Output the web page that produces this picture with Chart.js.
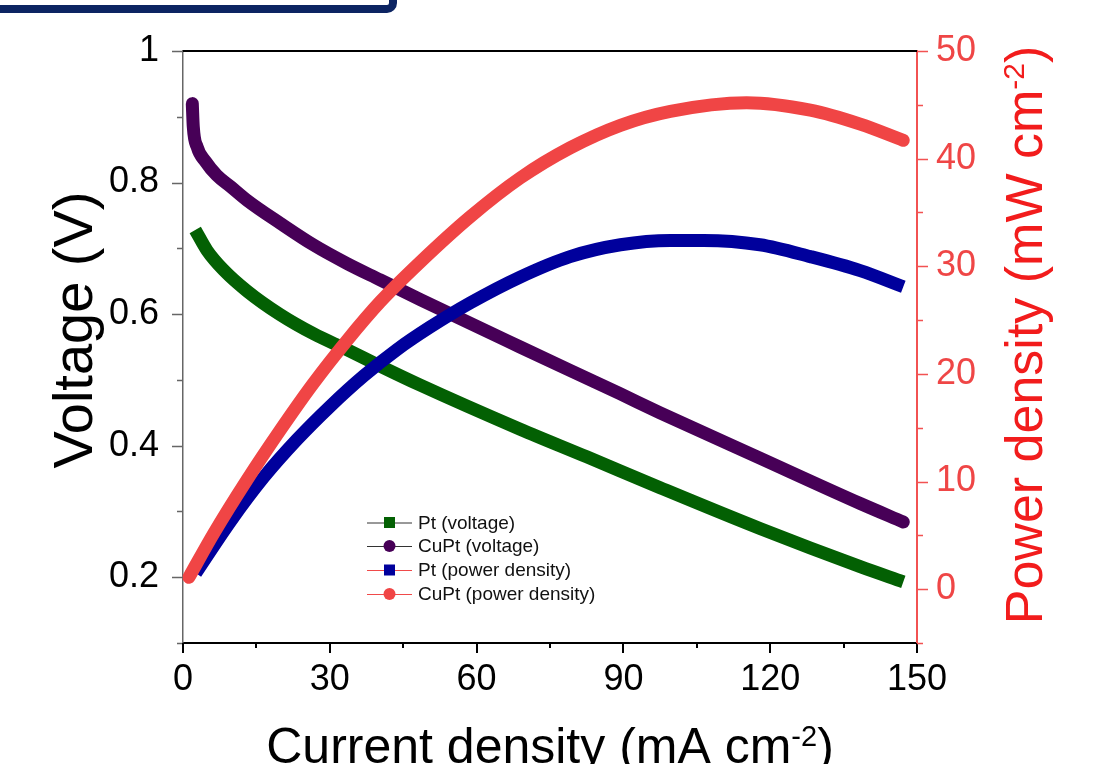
<!DOCTYPE html>
<html><head><meta charset="utf-8">
<script src="https://cdn.jsdelivr.net/npm/chart.js@4.4.1/dist/chart.umd.min.js"></script>
<style>html,body{margin:0;padding:0;background:#fff;overflow:hidden}#wrap{width:1100px;height:764px;position:relative}</style>
</head><body><div id="wrap"><canvas id="c" width="1100" height="764"></canvas></div>
<script>
// ---- tick labels ----
const xTicks = [0, 30, 60, 90, 120, 150];
const xMinorTicks = [15, 45, 75, 105, 135];
const vTicks = [0.2, 0.4, 0.6, 0.8, 1.0];
const vMinorTicks = [0.1, 0.3, 0.5, 0.7, 0.9];
const pTicks = [0, 10, 20, 30, 40, 50];
const pMinorTicks = [-5, 5, 15, 25, 35, 45];

// ---- series ----
const ptVoltI = [2.5, 4.9, 8.3, 13.1, 19.9, 26.7, 33.5, 40.3, 48.5, 68.9, 82.5, 97.5, 117.9, 138.4, 147.2];
const ptVoltV = [0.728, 0.697, 0.667, 0.635, 0.599, 0.570, 0.546, 0.521, 0.492, 0.425, 0.383, 0.336, 0.274, 0.216, 0.193];

const cuptVoltI = [1.9, 2.1, 2.9, 4.6, 6.9, 9.7, 13.1, 19.9, 26.7, 33.5, 40.3, 48.5, 68.9, 89.3, 97.5, 117.9, 138.4, 147.2];
const cuptVoltV = [0.920, 0.885, 0.854, 0.832, 0.811, 0.794, 0.773, 0.738, 0.705, 0.677, 0.652, 0.622, 0.550, 0.479, 0.450, 0.381, 0.312, 0.284];

const ptPowI = [2.6, 9.7, 16.5, 23.3, 30.1, 36.9, 43.7, 50.5, 58.7, 68.9, 79.1, 89.4, 99.6, 106.4, 117.9, 128.2, 138.4, 147.2];
const ptPowP = [1.5, 6.3, 10.4, 13.9, 17.0, 19.8, 22.25, 24.35, 26.6, 29.0, 30.9, 32.0, 32.4, 32.4, 32.0, 30.9, 29.6, 28.1];

const cuptPowI = [1.2, 6.3, 13.0, 19.9, 26.6, 33.5, 40.3, 48.5, 58.7, 68.9, 79.1, 89.4, 99.6, 115.2, 128.2, 138.4, 147.2];
const cuptPowP = [1.1, 5.2, 10.1, 14.8, 19.1, 23.1, 26.7, 30.4, 34.6, 38.2, 41.0, 43.1, 44.4, 45.2, 44.5, 43.2, 41.7];

const seriesLabels = ['Pt (voltage)', 'CuPt (voltage)', 'Pt (power density)', 'CuPt (power density)'];
const xTitleParts = ['Current density (mA cm', '-2', ')'];
const yTitleParts = ['Voltage (V)', '', ''];
const y2TitleParts = ['Power density (mW cm', '-2', ')'];

const FONT = '"Liberation Sans", Arial, sans-serif';
const RED_TXT = '#ef4646';

function pts(xs, ys) { return xs.map((x, i) => ({ x: x, y: ys[i] })); }

const styles = [
  { color: '#036003', cap: 'butt', shape: 'rect', legendLine: '#333333', order: 4, axis: 'y' },
  { color: '#470057', cap: 'round', shape: 'circle', legendLine: '#333333', order: 3, axis: 'y' },
  { color: '#00009c', cap: 'butt', shape: 'rect', legendLine: '#f04a4a', order: 2, axis: 'y2' },
  { color: '#f04545', cap: 'round', shape: 'circle', legendLine: '#f04a4a', order: 1, axis: 'y2' }
];
const dataSets = [pts(ptVoltI, ptVoltV), pts(cuptVoltI, cuptVoltV), pts(ptPowI, ptPowP), pts(cuptPowI, cuptPowP)];

const datasets = dataSets.map((d, i) => ({
  label: seriesLabels[i],
  data: d,
  yAxisID: styles[i].axis,
  showLine: true,
  borderColor: styles[i].color,
  backgroundColor: styles[i].color,
  borderWidth: 13,
  borderCapStyle: styles[i].cap,
  borderJoinStyle: 'round',
  pointRadius: 0,
  pointHoverRadius: 0,
  cubicInterpolationMode: 'monotone',
  order: styles[i].order,
  clip: false
}));

function drawTitle(ctx, parts, size, color, cx, baseY, rotate) {
  ctx.save();
  ctx.translate(cx, baseY);
  if (rotate) ctx.rotate(-Math.PI / 2);
  ctx.fillStyle = color;
  ctx.textBaseline = 'alphabetic';
  ctx.textAlign = 'left';
  const supSize = Math.round(size * 0.58);
  ctx.font = size + 'px ' + FONT;
  const w1 = ctx.measureText(parts[0]).width;
  const w3 = ctx.measureText(parts[2]).width;
  ctx.font = supSize + 'px ' + FONT;
  const w2 = ctx.measureText(parts[1]).width;
  let x = -(w1 + w2 + w3) / 2;
  ctx.font = size + 'px ' + FONT;
  ctx.fillText(parts[0], x, 0); x += w1;
  ctx.font = supSize + 'px ' + FONT;
  ctx.fillText(parts[1], x, -size * 0.34); x += w2;
  ctx.font = size + 'px ' + FONT;
  ctx.fillText(parts[2], x, 0);
  ctx.restore();
}

const decor = {
  id: 'decor',
  afterDraw(chart) {
    const ctx = chart.ctx;
    const ca = chart.chartArea;
    const sx = chart.scales.x, sy = chart.scales.y, sy2 = chart.scales.y2;
    ctx.save();
    // top frame line
    ctx.strokeStyle = '#000'; ctx.lineWidth = 2;
    ctx.beginPath(); ctx.moveTo(ca.left, ca.top); ctx.lineTo(ca.right, ca.top); ctx.stroke();
    // ticks
    const tick = (color, w, fn) => { ctx.strokeStyle = color; ctx.lineWidth = w; ctx.beginPath(); fn(); ctx.stroke(); };
    tick('#666', 1.5, () => {
      vTicks.forEach(v => { const p = Math.round(sy.getPixelForValue(v)) + 0.5; ctx.moveTo(ca.left - 11, p); ctx.lineTo(ca.left, p); });
      vMinorTicks.forEach(v => { const p = Math.round(sy.getPixelForValue(v)) + 0.5; ctx.moveTo(ca.left - 6, p); ctx.lineTo(ca.left, p); });
    });
    tick('#000', 2, () => {
      xTicks.forEach(v => { const p = Math.round(sx.getPixelForValue(v)); ctx.moveTo(p, ca.bottom); ctx.lineTo(p, ca.bottom + 10); });
      xMinorTicks.forEach(v => { const p = Math.round(sx.getPixelForValue(v)); ctx.moveTo(p, ca.bottom); ctx.lineTo(p, ca.bottom + 5); });
    });
    tick('#f25252', 1.5, () => {
      pTicks.forEach(v => { const p = Math.round(sy2.getPixelForValue(v)) + 0.5; ctx.moveTo(ca.right, p); ctx.lineTo(ca.right + 11, p); });
      pMinorTicks.forEach(v => { const p = Math.round(sy2.getPixelForValue(v)) + 0.5; ctx.moveTo(ca.right, p); ctx.lineTo(ca.right + 6, p); });
    });
    // legend
    const rowY = [522.5, 546, 570, 594];
    ctx.font = '19px ' + FONT;
    ctx.textBaseline = 'middle';
    ctx.textAlign = 'left';
    chart.data.datasets.forEach((ds, i) => {
      const y = rowY[i];
      ctx.strokeStyle = styles[i].legendLine; ctx.lineWidth = 1;
      ctx.beginPath(); ctx.moveTo(367, y + 0.5); ctx.lineTo(412, y + 0.5); ctx.stroke();
      ctx.fillStyle = ds.borderColor;
      if (styles[i].shape === 'rect') ctx.fillRect(384, y - 5.5, 11, 11);
      else { ctx.beginPath(); ctx.arc(389.5, y, 6, 0, Math.PI * 2); ctx.fill(); }
      ctx.fillStyle = '#111';
      ctx.fillText(ds.label, 418, y + 1);
    });
    // axis titles
    drawTitle(ctx, xTitleParts, 50, '#000', (ca.left + ca.right) / 2, 763, false);
    drawTitle(ctx, yTitleParts, 56, '#000', 92, 330, true);
    drawTitle(ctx, y2TitleParts, 52, '#f21c1c', 1042, 335, true);
    // navy frame of the box above
    ctx.strokeStyle = '#0c2462'; ctx.lineWidth = 8;
    ctx.beginPath();
    if (ctx.roundRect) ctx.roundRect(-30, -120, 423, 129, 6); else ctx.rect(-30, -120, 423, 129);
    ctx.stroke();
    ctx.restore();
  }
};

new Chart(document.getElementById('c'), {
  type: 'scatter',
  data: { datasets: datasets },
  plugins: [decor],
  options: {
    responsive: false,
    animation: false,
    devicePixelRatio: 1,
    layout: { padding: { top: 51, left: 0, right: 0, bottom: 0 } },
    plugins: { legend: { display: false }, tooltip: { enabled: false } },
    scales: {
      x: {
        type: 'linear', position: 'bottom', min: 0, max: 150,
        afterBuildTicks: s => { s.ticks = xTicks.map(v => ({ value: v })); },
        afterFit: s => { s.height = 121; },
        grid: { display: false, drawTicks: false },
        border: { display: true, color: '#000', width: 2 },
        ticks: { color: '#000', font: { size: 36, family: FONT }, padding: 15, maxRotation: 0, autoSkip: false }
      },
      y: {
        type: 'linear', position: 'left', min: 0.1, max: 1.0,
        afterBuildTicks: s => { s.ticks = vTicks.map(v => ({ value: v })); },
        afterFit: s => { s.width = 183; },
        grid: { display: false, drawTicks: false },
        border: { display: true, color: '#666', width: 1.5 },
        ticks: { color: '#000', font: { size: 36, family: FONT }, padding: 24, autoSkip: false,
          callback: v => (Math.abs(v - 1) < 1e-9 ? '1' : v.toFixed(1)) }
      },
      y2: {
        type: 'linear', position: 'right', min: -5, max: 50,
        afterBuildTicks: s => { s.ticks = pTicks.map(v => ({ value: v })); },
        afterFit: s => { s.width = 183; },
        grid: { display: false, drawTicks: false },
        border: { display: true, color: '#f25252', width: 2 },
        ticks: { color: RED_TXT, font: { size: 36, family: FONT }, padding: 19, autoSkip: false }
      }
    }
  }
});
</script>
</body></html>
